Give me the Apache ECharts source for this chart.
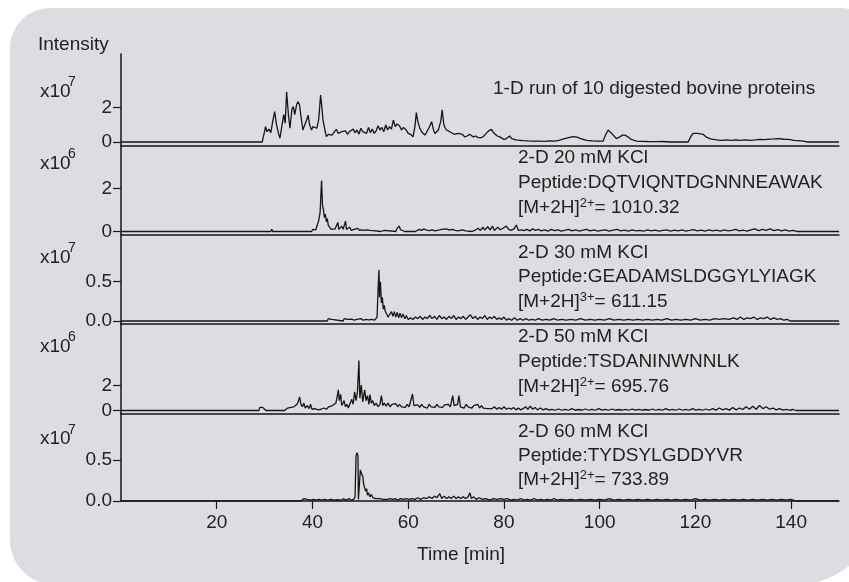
<!DOCTYPE html>
<html>
<head>
<meta charset="utf-8">
<script src="https://cdn.jsdelivr.net/npm/echarts@6/dist/echarts.min.js"></script>
<style>
  html, body { margin: 0; padding: 0; background: #fff; }
  #main { width: 849px; height: 582px; }
</style>
</head>
<body>
<div id="main"></div>
<script>
// time axis ticks (min)
const timeTicks = [20, 40, 60, 80, 100, 120, 140];

// y tick labels for each panel
const yTicks = [[0, 2], [0, 2], [0, 0.5], [0, 2], [0, 0.5]];
const yExp = ['7', '6', '7', '6', '7'];

// 1-D run, intensity x10^7
const run1D = [[0,0],[27.0,0],[27.3,0.05],[27.6,0],[29.5,0],[29.9,0.5],[30.2,0.89],[30.5,0.6],[30.9,0.75],[31.3,0.55],[31.7,1.2],[32.1,1.77],[32.5,1.0],[32.9,0.5],[33.2,0.23],[33.6,0.9],[34.0,1.6],[34.3,1.1],[34.6,2.93],[35.0,1.5],[35.3,0.8],[35.7,1.9],[36.0,2.06],[36.3,1.6],[36.7,2.2],[37.0,2.35],[37.3,2.16],[37.6,1.5],[38.0,0.7],[38.4,1.0],[38.8,1.3],[39.1,1.57],[39.4,1.0],[39.8,0.7],[40.1,0.9],[40.5,1.0],[40.9,0.8],[41.3,1.3],[41.7,2.74],[42.0,1.9],[42.2,1.28],[42.6,0.7],[42.9,0.31],[43.3,0.45],[43.7,0.55],[44.1,0.4],[44.6,0.6],[45.0,0.74],[45.4,0.5],[45.7,0.4],[46.1,0.6],[46.5,0.5],[46.9,0.65],[47.3,0.45],[47.7,0.6],[48.1,0.5],[48.5,0.75],[48.9,0.55],[49.3,0.7],[49.7,0.45],[50.1,0.8],[50.5,0.6],[50.9,0.7],[51.3,0.5],[51.7,0.85],[52.1,0.55],[52.5,0.75],[52.9,0.5],[53.3,0.65],[53.7,0.95],[54.1,0.7],[54.5,0.85],[54.9,0.6],[55.3,1.0],[55.7,0.7],[56.1,0.9],[56.5,0.75],[56.9,1.28],[57.3,0.9],[57.7,1.05],[58.2,0.93],[58.6,0.7],[59.0,0.85],[59.6,0.7],[60.0,0.5],[60.5,0.45],[61.0,0.3],[61.4,0.9],[61.7,1.71],[62.0,1.2],[62.4,0.82],[62.8,0.6],[63.1,0.7],[63.5,0.4],[63.9,0.6],[64.3,0.8],[64.6,0.9],[64.9,1.18],[65.3,0.7],[65.6,0.5],[65.9,0.4],[66.3,0.7],[66.8,1.2],[67.1,1.87],[67.4,1.1],[67.6,0.89],[68.0,0.7],[68.4,0.8],[68.7,0.6],[69.1,0.65],[69.6,0.45],[70.0,0.55],[70.4,0.5],[70.8,0.4],[71.3,0.45],[71.8,0.3],[72.3,0.35],[72.8,0.45],[73.2,0.4],[73.6,0.3],[74.1,0.35],[74.6,0.25],[75.0,0.3],[75.3,0.25],[75.8,0.35],[76.3,0.5],[76.8,0.65],[77.1,0.72],[77.4,0.74],[77.8,0.55],[78.2,0.45],[78.6,0.35],[79.1,0.3],[79.5,0.2],[80.0,0.15],[80.5,0.2],[80.9,0.3],[81.2,0.35],[81.6,0.2],[82.0,0.25],[82.5,0.12],[83.3,0.1],[84.0,0.08],[85.0,0.06],[86.0,0.05],[87.5,0.05],[88.5,0.04],[89.5,0.06],[90.5,0.05],[91.5,0.1],[92.5,0.18],[93.5,0.25],[94.5,0.31],[95.3,0.28],[96.0,0.2],[97.3,0.1],[98.5,0.07],[99.5,0.05],[100.7,0.05],[101.2,0.4],[101.8,0.7],[102.2,0.6],[102.5,0.5],[103.0,0.35],[103.5,0.2],[104.2,0.3],[104.8,0.4],[105.3,0.4],[105.9,0.3],[106.6,0.15],[107.7,0.05],[108.5,0.04],[110.0,0.03],[111.9,0.02],[113.0,0.03],[115.0,0],[118.5,0],[119.0,0.3],[119.5,0.5],[119.9,0.54],[120.5,0.5],[121.0,0.48],[121.6,0.45],[122.2,0.3],[123.0,0.2],[123.7,0.15],[124.5,0.12],[125.5,0.1],[126.5,0.12],[127.5,0.1],[128.5,0.12],[129.3,0.1],[130.5,0.12],[131.5,0.1],[132.5,0.12],[133.5,0.15],[134.5,0.14],[135.5,0.17],[136.5,0.18],[137.6,0.2],[138.5,0.16],[139.5,0.15],[140.5,0.1],[141.5,0.08],[142.5,0.05],[143.5,0],[150,0]];

// 2-D 20 mM KCl, x10^6
const kcl20 = [[0,0],[31.3,0],[31.5,0.1],[31.7,0],[33.6,0],[33.8,0.06],[34.0,0],[36.1,0],[36.3,0.08],[36.5,0],[39.8,0],[40.1,0.1],[40.4,0.15],[40.7,0.08],[41.0,0.3],[41.3,0.5],[41.6,0.9],[41.9,2.36],[42.1,1.2],[42.3,1.0],[42.5,0.64],[42.7,0.8],[42.9,0.45],[43.1,0.6],[43.3,0.3],[43.6,0.35],[43.9,0.1],[44.3,0.05],[44.7,0.12],[45.0,0.08],[45.3,0.42],[45.5,0.1],[45.8,0.15],[46.1,0.25],[46.4,0.1],[46.7,0.15],[46.9,0.48],[47.1,0.1],[47.5,0.15],[47.8,0.2],[48.1,0.05],[48.7,0.1],[49.1,0.05],[49.5,0.15],[49.8,0.05],[50.3,0.08],[50.8,0.05],[51.4,0.08],[52.0,0.05],[52.3,0.1],[52.7,0.04],[54.3,0],[54.6,0.08],[55.0,0.05],[55.4,0],[57.4,0],[57.6,0.12],[57.9,0.05],[58.1,0.25],[58.4,0.08],[58.8,0.05],[59.3,0],[61.5,0],[61.8,0.08],[62.3,0.1],[62.8,0.05],[63.3,0.12],[63.8,0.06],[64.4,0.04],[65.0,0.08],[65.6,0.03],[66.5,0.07],[67.0,0.1],[67.4,0.05],[67.9,0.12],[68.3,0.15],[68.7,0.06],[69.2,0.1],[69.8,0.05],[70.5,0.03],[71.3,0.08],[72.0,0.03],[73.4,0],[74.0,0.06],[74.6,0.15],[75.1,0.05],[75.6,0.2],[76.0,0.06],[76.6,0.22],[77.1,0.08],[77.6,0.25],[78.0,0.05],[78.7,0.2],[79.2,0.08],[79.8,0.15],[80.5,0.25],[81.0,0.1],[81.5,0.05],[82.1,0.12],[82.6,0.3],[83.0,0.05],[83.6,0.08],[84.2,0.04],[84.8,0.1],[85.4,0.03],[86.0,0.12],[86.6,0.05],[87.2,0.1],[87.8,0.03],[88.5,0.08],[89.2,0.02],[89.9,0.1],[90.6,0.04],[91.3,0.08],[92.0,0.02],[92.8,0.06],[93.5,0.1],[94.2,0.03],[95.0,0.08],[95.8,0.02],[96.5,0.06],[97.3,0.1],[98.0,0.03],[98.8,0.07],[99.6,0.02],[100.4,0.05],[101.2,0.08],[102.0,0.02],[102.8,0.06],[103.6,0.1],[104.4,0.03],[105.2,0.06],[106.0,0.02],[106.8,0.08],[107.6,0.03],[108.4,0.05],[109.2,0.02],[110.0,0.07],[110.8,0.03],[111.6,0.06],[112.4,0.02],[113.2,0.05],[114.0,0.08],[114.8,0.02],[115.6,0.06],[116.4,0.03],[117.2,0.07],[118.0,0.02],[118.8,0.05],[119.6,0.09],[120.4,0.03],[121.2,0.06],[122.0,0.02],[122.8,0.08],[123.6,0.03],[124.4,0.06],[125.2,0.02],[126.0,0.07],[126.8,0.03],[127.6,0.05],[128.4,0.1],[129.2,0.03],[130.0,0.06],[130.8,0.02],[131.6,0.08],[132.4,0.12],[133.2,0.04],[134.0,0.1],[134.8,0.05],[135.6,0.12],[136.4,0.04],[137.2,0.09],[138.0,0.03],[138.8,0.07],[139.6,0.02],[140.4,0.05],[141.2,0],[150,0]];

// 2-D 30 mM KCl, x10^7
const kcl30 = [[0,0],[34.7,0],[34.9,0.01],[35.1,0],[38.2,0],[38.4,0.02],[38.6,0],[40.6,0],[40.9,0.01],[41.2,0],[43.1,0],[43.3,0.03],[43.6,0.01],[44.0,0.02],[44.3,0],[46.4,0],[46.6,0.03],[46.9,0.01],[47.3,0.02],[47.7,0.01],[48.2,0.025],[48.7,0.01],[49.3,0.02],[50.1,0.03],[50.6,0.01],[51.2,0.02],[51.8,0.015],[52.4,0.02],[53.0,0.01],[53.5,0.05],[53.7,0.4],[53.9,0.65],[54.0,0.3],[54.2,0.5],[54.4,0.23],[54.6,0.3],[54.8,0.15],[55.0,0.2],[55.2,0.125],[55.5,0.1],[55.8,0.05],[56.1,0.08],[56.5,0.12],[56.8,0.06],[57.1,0.12],[57.4,0.05],[57.7,0.11],[58.0,0.04],[58.3,0.1],[58.6,0.04],[58.9,0.09],[59.3,0.03],[59.6,0.07],[60.0,0.02],[60.5,0.04],[61.0,0.02],[61.5,0.05],[62.0,0.03],[62.5,0.06],[63.0,0.02],[63.5,0.05],[64.0,0.03],[64.5,0.07],[65.0,0.03],[65.5,0.06],[66.0,0.02],[66.5,0.07],[67.0,0.03],[67.5,0.05],[68.0,0.02],[68.5,0.06],[69.0,0.03],[69.5,0.07],[70.0,0.02],[70.5,0.05],[71.0,0.03],[71.5,0.06],[72.0,0.02],[72.5,0.05],[73.0,0.08],[73.5,0.03],[74.0,0.06],[74.5,0.02],[75.0,0.05],[75.5,0.03],[76.0,0.07],[76.5,0.02],[77.0,0.05],[77.5,0.03],[78.0,0.06],[78.5,0.02],[79.0,0.04],[79.5,0.02],[80.0,0.05],[80.5,0.01],[81.0,0.03],[81.6,0.01],[82.2,0.04],[82.8,0.01],[83.4,0.03],[84.0,0.01],[84.6,0.03],[85.2,0.01],[85.8,0.02],[86.5,0.01],[87.2,0.03],[88.0,0.01],[88.8,0.02],[89.6,0.01],[90.4,0.03],[91.2,0.01],[92.0,0.02],[93.0,0.01],[94.0,0.02],[95.0,0.01],[96.0,0.03],[97.0,0.01],[98.0,0.02],[99.0,0.01],[100.0,0.02],[101.0,0.01],[102.0,0.03],[103.0,0.01],[104.0,0.02],[105.0,0.01],[106.0,0.02],[107.0,0.01],[108.0,0.02],[109.0,0.01],[110.0,0.02],[111.0,0.01],[112.0,0.02],[113.0,0.01],[114.0,0.03],[115.0,0.01],[116.0,0.02],[117.0,0.01],[118.0,0.02],[119.0,0.01],[120.0,0.03],[121.0,0.01],[122.0,0.02],[123.0,0.01],[124.0,0.03],[125.0,0.02],[126.0,0.03],[127.0,0.02],[128.0,0.04],[128.7,0.02],[129.4,0.05],[130.1,0.02],[130.8,0.04],[131.5,0.03],[132.2,0.05],[132.9,0.02],[133.6,0.04],[134.3,0.03],[135.0,0.05],[135.7,0.02],[136.4,0.04],[137.1,0.02],[137.8,0.03],[138.5,0.01],[139.2,0.02],[139.8,0],[150,0]];

// 2-D 50 mM KCl, x10^6
const kcl50 = [[0,0],[28.8,0],[29.0,0.25],[29.3,0.35],[29.6,0.25],[30.0,0.1],[30.3,0],[32.0,0],[32.3,0.05],[32.6,0],[34.2,0],[34.5,0.1],[34.8,0.2],[35.1,0.1],[35.5,0.25],[35.8,0.1],[36.1,0.3],[36.4,0.15],[36.8,0.5],[37.1,0.8],[37.3,1.1],[37.6,0.5],[37.9,0.3],[38.2,0.6],[38.5,0.2],[38.9,0.4],[39.3,0.15],[39.6,0.5],[39.9,0.1],[40.5,0.15],[41.2,0.05],[41.8,0.1],[42.4,0.2],[42.9,0.1],[43.4,0.3],[43.8,0.2],[44.2,0.4],[44.5,0.3],[44.9,0.6],[45.2,1.2],[45.4,1.67],[45.6,0.8],[45.9,1.3],[46.1,0.4],[46.4,0.6],[46.6,0.8],[46.9,0.3],[47.2,0.5],[47.5,0.2],[47.9,0.6],[48.2,0.9],[48.5,0.5],[48.8,1.5],[49.1,0.8],[49.4,1.5],[49.7,4.03],[49.9,1.0],[50.2,2.05],[50.5,0.7],[50.9,1.67],[51.2,0.8],[51.5,1.2],[51.8,0.5],[52.0,1.28],[52.3,0.6],[52.6,0.8],[52.9,0.4],[53.3,0.6],[53.7,0.3],[54.1,0.5],[54.4,1.2],[54.7,0.4],[55.0,0.6],[55.4,0.35],[55.8,0.6],[56.2,0.3],[56.6,0.5],[57.0,0.35],[57.4,0.55],[57.8,0.3],[58.2,0.5],[58.6,0.3],[59.0,0.45],[59.4,0.25],[59.8,0.5],[60.2,0.3],[60.6,0.4],[60.9,1.33],[61.2,0.4],[61.6,0.3],[62.0,0.45],[62.4,0.25],[62.8,0.5],[63.2,0.3],[63.6,0.45],[64.0,0.2],[64.4,0.5],[64.8,0.3],[65.2,0.45],[65.6,0.25],[66.0,0.5],[66.4,0.3],[66.8,0.4],[67.2,0.25],[67.6,0.45],[68.0,0.3],[68.4,0.5],[68.8,0.3],[69.3,1.2],[69.6,0.4],[70.0,0.3],[70.3,0.5],[70.6,1.2],[70.9,0.3],[71.3,0.4],[71.7,0.2],[72.1,0.5],[72.5,0.3],[72.9,0.45],[73.3,0.2],[73.7,0.4],[74.1,0.25],[74.5,0.5],[74.9,0.2],[75.3,0.4],[75.7,0.2],[76.1,0.35],[76.6,0.15],[77.0,0.3],[77.5,0.15],[78.0,0.3],[78.5,0.1],[79.0,0.25],[79.5,0.1],[80.0,0.3],[80.5,0.1],[81.0,0.2],[81.5,0.1],[82.0,0.25],[82.5,0.05],[83.0,0.2],[83.5,0.05],[84.0,0.15],[84.5,0.3],[85.0,0.1],[85.5,0.35],[86.0,0.1],[86.5,0.25],[87.0,0.05],[87.6,0.2],[88.2,0.05],[88.8,0.15],[89.4,0.03],[90.0,0.1],[90.7,0.02],[91.4,0.12],[92.1,0.02],[92.8,0.1],[93.5,0.02],[94.2,0.15],[94.9,0.02],[95.6,0.08],[96.3,0.02],[97.0,0.12],[97.7,0.02],[98.4,0.1],[99.1,0.02],[99.8,0.15],[100.5,0.03],[101.2,0.1],[101.9,0.02],[102.6,0.12],[103.3,0.02],[104.0,0.08],[104.7,0.02],[105.4,0.1],[106.1,0.02],[106.8,0.12],[107.5,0.03],[108.2,0.1],[108.9,0.02],[109.6,0.08],[110.3,0.02],[111.0,0.12],[111.7,0.02],[112.4,0.1],[113.1,0.02],[113.8,0.15],[114.5,0.03],[115.2,0.1],[115.9,0.02],[116.6,0.12],[117.3,0.02],[118.0,0.1],[118.7,0.02],[119.4,0.15],[120.1,0.03],[120.8,0.1],[121.5,0.02],[122.2,0.12],[122.9,0.02],[123.6,0.15],[124.3,0.03],[125.0,0.2],[125.7,0.05],[126.4,0.15],[127.1,0.03],[127.8,0.25],[128.5,0.05],[129.2,0.2],[129.9,0.08],[130.6,0.3],[131.3,0.1],[132.0,0.35],[132.7,0.1],[133.4,0.4],[134.1,0.15],[134.8,0.3],[135.5,0.1],[136.2,0.2],[136.9,0.05],[137.6,0.15],[138.3,0.03],[139.0,0.1],[139.7,0.02],[140.4,0.08],[141.0,0],[150,0]];

// 2-D 60 mM KCl, x10^7
const kcl60 = [[0,0],[34.8,0],[35.1,0.02],[35.4,0],[37.6,0],[37.9,0.02],[38.2,0.03],[38.5,0.01],[38.9,0.02],[39.3,0.03],[39.7,0.01],[40.2,0.02],[40.7,0.01],[41.3,0.02],[41.9,0.01],[42.5,0.02],[43.2,0.01],[43.9,0.02],[44.5,0.01],[45.2,0.015],[45.9,0.01],[46.5,0.025],[47.1,0.01],[47.6,0.03],[48.1,0.01],[48.6,0.02],[48.9,0.05],[49.1,0.55],[49.3,0.59],[49.5,0.55],[49.6,0.02],[49.8,0.03],[50.0,0.38],[50.2,0.34],[50.5,0.3],[50.7,0.2],[50.9,0.22],[51.1,0.12],[51.3,0.15],[51.5,0.07],[51.7,0.1],[52.0,0.05],[52.3,0.08],[52.6,0.04],[52.9,0.06],[53.2,0.03],[53.6,0.05],[54.0,0.03],[54.4,0.05],[54.8,0.02],[55.2,0.04],[55.7,0.02],[56.2,0.03],[56.7,0.02],[57.3,0.03],[57.8,0.01],[58.4,0.03],[59.0,0.02],[59.6,0.03],[60.2,0.02],[60.8,0.03],[61.4,0.02],[62.0,0.04],[62.6,0.02],[63.2,0.04],[63.8,0.03],[64.4,0.05],[65.0,0.03],[65.5,0.06],[66.0,0.04],[66.6,0.09],[67.0,0.03],[67.5,0.06],[68.0,0.03],[68.5,0.05],[69.0,0.03],[69.5,0.06],[70.0,0.03],[70.5,0.05],[71.0,0.03],[71.5,0.05],[72.0,0.03],[72.5,0.05],[72.9,0.1],[73.2,0.03],[73.7,0.05],[74.2,0.02],[74.8,0.04],[75.5,0.02],[76.2,0.03],[77.0,0.01],[77.8,0.03],[78.5,0.02],[79.3,0.03],[80.0,0.02],[80.7,0.03],[81.4,0.01],[82.1,0.02],[82.8,0.01],[83.5,0.03],[84.2,0.01],[84.9,0.02],[85.6,0.01],[86.3,0.03],[87.0,0.01],[87.7,0.02],[88.4,0.01],[89.1,0.02],[89.8,0.01],[90.5,0.03],[91.2,0.01],[92.0,0.02],[93.0,0.01],[94.0,0.02],[95.0,0.01],[96.0,0.02],[97.0,0.01],[98.0,0.02],[99.0,0.01],[100.0,0.02],[101.0,0.01],[102.0,0.03],[103.0,0.01],[104.0,0.02],[105.0,0.01],[106.0,0.02],[107.0,0.01],[108.0,0.02],[109.0,0.01],[110.0,0.02],[111.0,0.01],[112.0,0.02],[113.0,0.01],[114.0,0.02],[115.0,0.01],[116.0,0.02],[117.0,0.01],[118.0,0.02],[119.0,0.01],[120.0,0.03],[121.0,0.01],[122.0,0.02],[123.0,0.01],[124.0,0.02],[125.0,0.01],[126.0,0.02],[127.0,0.01],[128.0,0.02],[129.0,0.01],[130.0,0.02],[131.0,0.01],[132.0,0.02],[133.0,0.01],[134.0,0.02],[135.0,0.01],[136.0,0.02],[137.0,0.01],[138.0,0.02],[139.0,0.01],[140.0,0.02],[141.0,0],[150,0]];

const traces = [run1D, kcl20, kcl30, kcl50, kcl60];

// panel annotations
const notes = [
  ['1-D run of 10 digested bovine proteins'],
  ['2-D 20 mM KCl', 'Peptide:DQTVIQNTDGNNNEAWAK', '{n|[M+2H]}{s|2+}{n|= 1010.32}'],
  ['2-D 30 mM KCl', 'Peptide:GEADAMSLDGGYLYIAGK', '{n|[M+2H]}{s|3+}{n|= 611.15}'],
  ['2-D 50 mM KCl', 'Peptide:TSDANINWNNLK', '{n|[M+2H]}{s|2+}{n|= 695.76}'],
  ['2-D 60 mM KCl', 'Peptide:TYDSYLGDDYVR', '{n|[M+2H]}{s|2+}{n|= 733.89}']
];

const FONT = "'Liberation Sans', Arial, sans-serif";
const INK = '#161616';
const TXT = '#222222';

// panel layout (px)
const tops = [54, 146, 234.5, 324, 413.5];
const bottoms = [146, 234.5, 324, 413.5, 501];
const yMin = [-0.233, -0.139, -0.038, -0.242, 0];
const yMax = [5.13, 3.96, 1.10, 6.976, 1.067];
const noteX = [493, 518, 518, 518, 518];
const noteY = [[89], [157.5, 182.5, 208], [252.5, 277, 301.5], [337, 362, 386.5], [431.5, 455.5, 479.5]];
const expY = [91.5, 163.5, 257.5, 346.5, 439];

const grids = [], xAxes = [], yAxes = [], series = [], graphics = [];

// rounded grey card behind the plot
graphics.push({
  type: 'rect', z: -10, silent: true,
  shape: { x: 10, y: 8, width: 870, height: 577, r: [40, 40, 85, 45] },
  style: { fill: '#dcdde0' }
});
graphics.push({
  type: 'text', left: 38, top: 35,
  style: { text: 'Intensity', font: '19px ' + FONT, fill: TXT }
});

for (let i = 0; i < 5; i++) {
  const last = i === 4;
  grids.push({ left: 121, width: 718, top: tops[i], height: bottoms[i] - tops[i] });
  xAxes.push({
    type: 'value', gridIndex: i, min: 0, max: 150,
    axisLine: { show: true, onZero: false, lineStyle: { color: INK, width: 1.5 } },
    axisTick: { show: last, length: 8, customValues: timeTicks, lineStyle: { color: INK, width: 1.2 } },
    axisLabel: { show: last, customValues: timeTicks, margin: 12, fontSize: 19, fontFamily: FONT, color: TXT },
    splitLine: { show: false }
  });
  yAxes.push({
    type: 'value', gridIndex: i, min: yMin[i], max: yMax[i],
    axisLine: { show: true, lineStyle: { color: INK, width: 1.5 } },
    axisTick: { show: true, length: 8, customValues: yTicks[i], lineStyle: { color: INK, width: 1.2 } },
    axisLabel: {
      customValues: yTicks[i], margin: 9, fontSize: 19, fontFamily: FONT, color: TXT,
      formatter: v => (i === 2 || i === 4) ? v.toFixed(1) : String(v)
    },
    splitLine: { show: false }
  });
  series.push({
    type: 'line', xAxisIndex: i, yAxisIndex: i,
    data: traces[i], showSymbol: false, symbol: 'none', silent: true,
    lineStyle: { color: INK, width: 1.3 },
    clip: true
  });

  // x10^n labels
  graphics.push({
    type: 'text', x: 40, y: expY[i],
    style: { text: 'x10', font: '19px ' + FONT, fill: TXT, verticalAlign: 'middle' }
  });
  graphics.push({
    type: 'text', x: 68, y: expY[i] - 9,
    style: { text: yExp[i], font: '14px ' + FONT, fill: TXT, verticalAlign: 'middle' }
  });

  notes[i].forEach((t, k) => {
    graphics.push({
      type: 'text', x: noteX[i], y: noteY[i][k],
      style: {
        text: t, fill: TXT, verticalAlign: 'middle', font: '19px ' + FONT,
        rich: {
          n: { fontSize: 19, fontFamily: FONT, color: TXT, lineHeight: 22 },
          s: { fontSize: 13, fontFamily: FONT, color: TXT, verticalAlign: 'top', lineHeight: 14 }
        }
      }
    });
  });
}

const chart = echarts.init(document.getElementById('main'));
chart.setOption({
  backgroundColor: '#ffffff',
  animation: false,
  title: {
    text: 'Time [min]', left: 456, top: 540, textAlign: 'center',
    textStyle: { fontSize: 19, fontWeight: 'normal', fontFamily: FONT, color: TXT }
  },
  grid: grids,
  xAxis: xAxes,
  yAxis: yAxes,
  series: series,
  graphic: graphics
});
</script>
</body>
</html>
